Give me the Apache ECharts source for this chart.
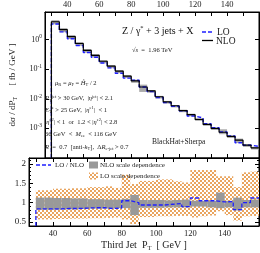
<!DOCTYPE html>
<html><head><meta charset="utf-8">
<script src="https://cdn.jsdelivr.net/npm/echarts@6/dist/echarts.min.js"></script>
<style>html,body{margin:0;padding:0;background:#fff}#c{width:260px;height:253px}</style>
</head><body><div id="c"></div>
<script>
// ---- data ----
const binEdges = [30,35,40,45,50,55,60,65,70,75,80,85,90,95,100,105,110,115,120,125,130,135,140,145,150,155,160];
const nloXsec = [3.98,2.15,1.26,0.735,0.43,0.293,0.185,0.126,0.086,0.058,0.040,0.025,0.0185,0.0117,0.0079,0.0058,0.0040,0.0029,0.0020,0.00136,0.0010,0.00074,0.00054,0.0004,0.00027,0.00022];
const loXsec = [3.34,1.81,1.06,0.625,0.366,0.252,0.161,0.110,0.0731,0.0499,0.042,0.025,0.0174,0.0110,0.00743,0.00557,0.00392,0.00261,0.00224,0.00143,0.00105,0.000755,0.000556,0.000328,0.00027,0.000246];
const loOverNlo = [0.84,0.84,0.84,0.85,0.85,0.86,0.87,0.87,0.85,0.86,1.05,1.0,0.94,0.94,0.94,0.96,0.98,0.90,1.12,1.05,1.05,1.02,1.03,0.82,1.0,1.12];
const nloBandLo = [0.82,0.82,0.82,0.83,0.83,0.84,0.85,0.85,0.85,0.86,0.86,0.68,0.87,0.87,0.87,0.88,0.88,0.88,0.90,0.90,0.88,0.86,0.88,0.80,0.88,0.88];
const nloBandHi = [1.13,1.13,1.12,1.12,1.11,1.11,1.09,1.09,1.08,1.08,1.10,1.20,1.07,1.07,1.07,1.06,1.07,1.08,1.05,1.05,1.05,1.26,1.05,1.13,1.07,1.08];
const loBandLo = [0.57,0.57,0.58,0.58,0.59,0.59,0.60,0.60,0.61,0.62,0.57,0.45,0.63,0.63,0.65,0.65,0.66,0.66,0.62,0.65,0.67,0.78,0.68,0.54,0.65,0.66];
const loBandHi = [1.32,1.32,1.36,1.36,1.37,1.37,1.40,1.40,1.42,1.38,1.72,1.48,1.56,1.56,1.60,1.60,1.55,1.52,1.84,1.84,1.84,1.68,1.68,1.40,1.78,1.80];
const xTickLabels = [40,60,80,100,120,140];
const topTickExponents = [0,-1,-2,-3];
const bottomTickLabels = [0.5,1,1.5,2];

// ---- helpers ----
const FONT = 'Liberation Serif';
const X_MIN = 26, X_MAX = 160;
const YT_MIN = 1e-4, YT_MAX = 8.5;
const YB_MIN = 0.4, YB_MAX = 2.15;
const BLUE = '#1f1fff';

function stepData(vals, base) {
  const d = [[binEdges[0], base]];
  for (let i = 0; i < vals.length; i++) d.push([binEdges[i], vals[i]]);
  d.push([binEdges[binEdges.length - 1], vals[vals.length - 1]]);
  return d;
}
function bandData(lo, hi, scale) {
  return lo.map((v, i) => [binEdges[i], binEdges[i + 1],
    scale ? scale[i] * v : v, scale ? scale[i] * hi[i] : hi[i]]);
}
const pc = document.createElement('canvas');
pc.width = 4; pc.height = 4;
const g = pc.getContext('2d');
g.fillStyle = '#ffffff'; g.fillRect(0, 0, 4, 4);
g.fillStyle = '#e9a45e'; g.fillRect(0, 0, 2, 2); g.fillRect(2, 2, 2, 2);
const orangePattern = { image: pc, repeat: 'repeat' };

function rectItem(fill) {
  return function (params, api) {
    const p1 = api.coord([api.value(0), api.value(3)]);
    const p2 = api.coord([api.value(1), api.value(2)]);
    return { type: 'rect', shape: { x: p1[0], y: p1[1], width: p2[0] - p1[0], height: p2[1] - p1[1] },
      style: { fill: fill } };
  };
}

const tick = { show: true, inside: true, length: 4, lineStyle: { color: '#000', width: 1 } };
const axLine = { show: true, lineStyle: { color: '#000', width: 1 } };
function xAx(grid, pos, labels, extra) {
  return Object.assign({
    type: 'value', gridIndex: grid, position: pos, min: X_MIN, max: X_MAX,
    minInterval: 10, maxInterval: 10, splitNumber: 13,
    axisLine: axLine, axisTick: tick, splitLine: { show: false },
    axisLabel: labels ? {
      show: true, fontFamily: FONT, fontSize: 8.5, color: '#222', margin: 3,
      showMinLabel: false, showMaxLabel: false,
      formatter: v => xTickLabels.includes(Math.round(v)) ? String(Math.round(v)) : ''
    } : { show: false }
  }, extra || {});
}

const rich = {
  n: { fontFamily: FONT, fontSize: 6.5, fill: '#222', lineHeight: 9 },
  i: { fontFamily: FONT, fontSize: 6.5, fontStyle: 'italic', fill: '#222', lineHeight: 9 },
  u: { fontFamily: FONT, fontSize: 4.5, fill: '#222', lineHeight: 4, verticalAlign: 'top' },
  d: { fontFamily: FONT, fontSize: 4.5, fill: '#222', lineHeight: 4, verticalAlign: 'bottom' }
};
function txt(x, y, text, extra) {
  return { type: 'text', x: x, y: y, z: 100,
    style: Object.assign({ text: text, rich: rich, fill: '#222', font: '6.5px ' + FONT,
      align: 'left', verticalAlign: 'middle' }, extra || {}) };
}
function ptxt(x, y, text, size) {
  return { type: 'text', x: x, y: y, z: 100,
    style: { text: text, fill: '#222', font: size + 'px ' + FONT, align: 'left', verticalAlign: 'middle' } };
}

const option = {
  animation: false,
  backgroundColor: '#fff',
  grid: [
    { left: 29, top: 10, width: 230, height: 148, show: true, borderColor: '#000', borderWidth: 1 },
    { left: 29, top: 158, width: 230, height: 74, show: true, borderColor: '#000', borderWidth: 1 }
  ],
  xAxis: [
    xAx(0, 'bottom', false),
    xAx(0, 'top', true),
    xAx(1, 'top', false),
    xAx(1, 'bottom', true, {
      name: '{a|Third Jet  P}{s|T}{a|  [ GeV ]}', nameLocation: 'middle', nameGap: 13,
      nameTextStyle: { rich: {
        a: { fontFamily: FONT, fontSize: 10, color: '#222', lineHeight: 13 },
        s: { fontFamily: FONT, fontSize: 6.5, color: '#222', lineHeight: 6, verticalAlign: 'bottom' } } }
    })
  ],
  yAxis: [
    { type: 'log', logBase: 10, gridIndex: 0, position: 'left', min: YT_MIN, max: YT_MAX,
      axisLine: axLine, axisTick: tick, splitLine: { show: false },
      axisLabel: { show: true, margin: 3, showMinLabel: false, showMaxLabel: false,
        formatter: v => { const e = Math.round(Math.log10(v));
          return topTickExponents.includes(e) ? '{b|10}{s|' + e + '}' : ''; },
        rich: { b: { fontFamily: FONT, fontSize: 8, color: '#222', lineHeight: 11 },
                s: { fontFamily: FONT, fontSize: 5.5, color: '#222', lineHeight: 5, verticalAlign: 'top' } } },
      name: '{a|dσ / dP}{s|T}{a|     [ fb / GeV ]}', nameLocation: 'middle', nameGap: 21,
      nameTextStyle: { rich: {
        a: { fontFamily: FONT, fontSize: 9, color: '#222', lineHeight: 12 },
        s: { fontFamily: FONT, fontSize: 6, color: '#222', lineHeight: 5, verticalAlign: 'bottom' } } } },
    { type: 'log', logBase: 10, gridIndex: 0, position: 'right', min: YT_MIN, max: YT_MAX,
      axisLine: axLine, axisTick: tick, splitLine: { show: false }, axisLabel: { show: false } },
    { type: 'value', gridIndex: 1, position: 'left', min: YB_MIN, max: YB_MAX, splitNumber: 4,
      axisLine: axLine, axisTick: tick, splitLine: { show: false },
      minorTick: { show: true, splitNumber: 5, length: 2, lineStyle: { color: '#000' } },
      axisLabel: { show: true, margin: 3, fontFamily: FONT, fontSize: 9, color: '#222',
        showMinLabel: false, showMaxLabel: false,
        formatter: v => bottomTickLabels.some(t => Math.abs(t - v) < 1e-6) ? String(v) : '' } },
    { type: 'value', gridIndex: 1, position: 'right', min: YB_MIN, max: YB_MAX, splitNumber: 4,
      axisLine: axLine, axisTick: tick, splitLine: { show: false },
      minorTick: { show: true, splitNumber: 5, length: 2, lineStyle: { color: '#000' } },
      axisLabel: { show: false } }
  ],
  series: [
    { type: 'custom', xAxisIndex: 0, yAxisIndex: 0, clip: true, z: 1,
      renderItem: rectItem('#aaaaaa'), encode: { x: [0, 1], y: [2, 3] },
      data: bandData(nloBandLo, nloBandHi, nloXsec) },
    { name: 'LO', type: 'line', xAxisIndex: 0, yAxisIndex: 0, step: 'end', symbol: 'none', z: 3,
      lineStyle: { color: BLUE, width: 1.4, type: [4, 2] }, data: stepData(loXsec, YT_MIN) },
    { name: 'NLO', type: 'line', xAxisIndex: 0, yAxisIndex: 0, step: 'end', symbol: 'none', z: 4,
      lineStyle: { color: '#000', width: 1.2 }, data: stepData(nloXsec, YT_MIN) },
    { type: 'custom', xAxisIndex: 3, yAxisIndex: 2, clip: true, z: 1,
      renderItem: rectItem(orangePattern), encode: { x: [0, 1], y: [2, 3] },
      data: bandData(loBandLo, loBandHi) },
    { type: 'custom', xAxisIndex: 3, yAxisIndex: 2, clip: true, z: 2,
      renderItem: rectItem('#999999'), encode: { x: [0, 1], y: [2, 3] },
      data: bandData(nloBandLo, nloBandHi) },
    { name: 'LO / NLO', type: 'line', xAxisIndex: 3, yAxisIndex: 2, step: 'end', symbol: 'none', z: 3,
      lineStyle: { color: BLUE, width: 1.3, type: [4, 2] }, data: stepData(loOverNlo, YB_MIN) }
  ],
  graphic: [
    // top legend
    { type: 'line', shape: { x1: 202, y1: 32, x2: 213, y2: 32 }, style: { stroke: BLUE, lineWidth: 1.5, lineDash: [4, 2] }, z: 100 },
    ptxt(217, 32, 'LO', 9.5),
    { type: 'line', shape: { x1: 202, y1: 40.5, x2: 213, y2: 40.5 }, style: { stroke: '#000', lineWidth: 1.3 }, z: 100 },
    ptxt(216, 41, 'NLO', 9.5),
    // process label
    { type: 'text', x: 122, y: 31, z: 100, style: { text: '{a|Z / γ}{s|*}{a| + 3 jets + X}',
      align: 'left', verticalAlign: 'middle', rich: {
      a: { fontFamily: FONT, fontSize: 10, fill: '#111', lineHeight: 12 },
      s: { fontFamily: FONT, fontSize: 6.5, fill: '#111', lineHeight: 6, verticalAlign: 'top' } } } },
    txt(132, 50, '{n|√}{i|s}{n|  =  1.96 TeV}'),
    txt(55, 83, '{i|μ}{d|R}{n| = }{i|μ}{d|F}{n| = }{i|Ĥ}{d|T}{n| / 2}'),
    txt(45, 98.5, '{i|P}{d|T}{u|jet}{n| > 30 GeV,  |}{i|η}{u|jet}{n|| < 2.1}'),
    txt(45, 110, '{i|E}{d|T}{u|e}{n| > 25 GeV,  |}{i|η}{u|e1}{n||  < 1}'),
    txt(45, 122, '{n||}{i|η}{u|e2}{n|| < 1  or  1.2 < |}{i|η}{u|e2}{n|| < 2.8}'),
    txt(45, 134, '{n|66 GeV  <  }{i|M}{d|ee}{n|  < 116 GeV}'),
    txt(45, 147, '{i|R}{n|  =  0.7  [anti-}{i|k}{d|T}{n|],  Δ}{i|R}{d|e-jet}{n| > 0.7}'),
    ptxt(152, 142.5, 'BlackHat+Sherpa', 7.5),
    // bottom legend
    { type: 'line', shape: { x1: 36, y1: 165, x2: 51, y2: 165 }, style: { stroke: BLUE, lineWidth: 1.3, lineDash: [4, 2] }, z: 100 },
    ptxt(55, 165.5, 'LO / NLO', 7),
    { type: 'rect', shape: { x: 89, y: 161.5, width: 9, height: 7 }, style: { fill: '#999999' }, z: 100 },
    ptxt(100, 165.5, 'NLO scale dependence', 7),
    { type: 'rect', shape: { x: 89, y: 172.5, width: 9, height: 7 }, style: { fill: orangePattern }, z: 100 },
    ptxt(100, 176.5, 'LO scale dependence', 7)
  ]
};
const chart = echarts.init(document.getElementById('c'), null, { renderer: 'canvas' });
chart.setOption(option);
</script></body></html>
